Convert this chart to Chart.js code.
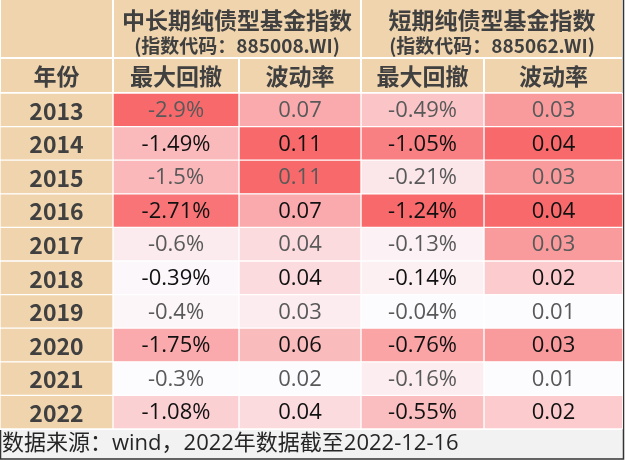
<!DOCTYPE html>
<html>
<head>
<meta charset="utf-8">
<script src="https://cdn.jsdelivr.net/npm/chart.js@4/dist/chart.umd.min.js"></script>
<style>
  body { margin: 0; background: #fff; }
  #wrap { width: 627px; height: 460px; position: relative; }
</style>
</head>
<body>
<div id="wrap"><canvas id="c"></canvas></div>
<script>
// 数据
const years = ['2013', '2014', '2015', '2016', '2017', '2018', '2019', '2020', '2021', '2022'];
const ddMid = [-2.9, -1.49, -1.5, -2.71, -0.6, -0.39, -0.4, -1.75, -0.3, -1.08];   // 中长期 最大回撤 %
const volMid = [0.07, 0.11, 0.11, 0.07, 0.04, 0.04, 0.03, 0.06, 0.02, 0.04];       // 中长期 波动率
const ddShort = [-0.49, -1.05, -0.21, -1.24, -0.13, -0.14, -0.04, -0.76, -0.16, -0.55]; // 短期 最大回撤 %
const volShort = [0.03, 0.04, 0.03, 0.04, 0.03, 0.02, 0.01, 0.03, 0.01, 0.02];     // 短期 波动率

const groupTitles = ['中长期纯债型基金指数', '短期纯债型基金指数'];
const groupCodes = ['(指数代码：885008.WI)', '(指数代码：885062.WI)'];
const yearHeader = '年份';
const colHeaders = ['最大回撤', '波动率', '最大回撤', '波动率'];
const sourceNote = '数据来源：wind，2022年数据截至2022-12-16';

// 版式
const colW = [113, 126, 122, 123, 139];
const edges = [0];
colW.forEach(w => edges.push(edges[edges.length - 1] + w));
const TAN = '#EFD4AE';
const TXT = '#404040';
const CJK = '"Noto Sans CJK SC", "Noto Sans", sans-serif';
const NUM = '"Open Sans", "Noto Sans", sans-serif';
const MIX = '"Open Sans", "Noto Sans CJK SC", sans-serif';

// Excel 风格色阶：最小 -> 白，最大 -> 红
function scaleColors(arr) {
  const a = arr.map(v => Math.abs(v));
  const mn = Math.min(...a), mx = Math.max(...a);
  return a.map(v => {
    const t = (v - mn) / (mx - mn);
    const r = Math.round(252 + (248 - 252) * t);
    const g = Math.round(252 + (105 - 252) * t);
    const b = Math.round(255 + (107 - 255) * t);
    return `rgb(${r},${g},${b})`;
  });
}

const columns = [
  { vals: ddMid, fmt: v => v + '%' },
  { vals: volMid, fmt: v => String(v) },
  { vals: ddShort, fmt: v => v + '%' },
  { vals: volShort, fmt: v => String(v) }
];

const datasets = [{
  label: yearHeader,
  data: years.map(() => [edges[0], edges[1]]),
  backgroundColor: TAN,
  texts: years
}];
columns.forEach((col, k) => {
  datasets.push({
    label: colHeaders[k],
    data: col.vals.map(() => [edges[k + 1], edges[k + 2]]),
    backgroundColor: scaleColors(col.vals),
    texts: col.vals.map(col.fmt)
  });
});
datasets.forEach(d => {
  d.borderColor = '#fff';
  d.borderWidth = 1;
  d.borderSkipped = false;
  d.grouped = false;
  d.barPercentage = 1;
  d.categoryPercentage = 1;
});

// 表头、页脚
const tablePlugin = {
  id: 'tableFrame',
  beforeDatasetsDraw(chart) {
    const ctx = chart.ctx;
    const xs = chart.scales.x;
    const px = v => xs.getPixelForValue(v);
    ctx.save();
    ctx.fillStyle = TAN;
    // 第一行表头
    [[0, 1], [1, 3], [3, 5]].forEach(([a, b]) => {
      ctx.fillRect(px(edges[a]) + 1, 0, px(edges[b]) - px(edges[a]) - 2, 57);
    });
    // 第二行表头
    for (let k = 0; k < 5; k++) {
      ctx.fillRect(px(edges[k]) + 1, 59, px(edges[k + 1]) - px(edges[k]) - 2, 33);
    }
    ctx.fillStyle = TXT;
    ctx.textAlign = 'center';
    ctx.textBaseline = 'middle';
    groupTitles.forEach((t, g) => {
      const cx = (px(edges[1 + g * 2]) + px(edges[3 + g * 2])) / 2;
      ctx.font = 'bold 23px ' + CJK;
      ctx.fillText(t, cx, 20);
      ctx.font = 'bold 19px ' + CJK;
      ctx.fillText(groupCodes[g], cx, 46);
    });
    ctx.font = 'bold 23px ' + CJK;
    ctx.fillText(yearHeader, (px(edges[0]) + px(edges[1])) / 2, 76);
    colHeaders.forEach((t, k) => {
      ctx.fillText(t, (px(edges[k + 1]) + px(edges[k + 2])) / 2, 76);
    });
    // 页脚
    const right = px(edges[5]);
    ctx.fillStyle = '#F2F2F2';
    ctx.fillRect(0, 430, right, 29);
    ctx.fillStyle = '#262626';
    ctx.textAlign = 'left';
    ctx.font = '22px ' + MIX;
    ctx.fillText(sourceNote, 2, 444);
    ctx.strokeStyle = '#333';
    ctx.lineWidth = 1.5;
    ctx.beginPath();
    ctx.moveTo(right + 0.5, 0);
    ctx.lineTo(right + 0.5, 459);
    ctx.lineTo(0.5, 459);
    ctx.lineTo(0.5, 430);
    ctx.stroke();
    ctx.restore();
  },
  afterDatasetsDraw(chart) {
    const ctx = chart.ctx;
    ctx.save();
    ctx.textAlign = 'center';
    ctx.textBaseline = 'middle';
    chart.data.datasets.forEach((ds, i) => {
      chart.getDatasetMeta(i).data.forEach((el, j) => {
        const p = el.getProps(['x', 'y', 'base'], true);
        const cx = (p.x + p.base) / 2;
        if (i === 0) {
          ctx.font = 'bold 23px ' + CJK;
          ctx.fillStyle = TXT;
        } else {
          ctx.font = '22px ' + NUM;
          ctx.fillStyle = j % 2 === 0 ? '#595959' : '#111111';
        }
        ctx.fillText(ds.texts[j], cx, p.y + 1);
      });
    });
    ctx.restore();
  }
};

new Chart(document.getElementById('c'), {
  type: 'bar',
  data: { labels: years, datasets: datasets },
  options: {
    indexAxis: 'y',
    responsive: true,
    maintainAspectRatio: false,
    animation: false,
    layout: { padding: { top: 93, bottom: 31, left: 0, right: 4 } },
    scales: {
      x: { type: 'linear', min: edges[0], max: edges[5], display: false },
      y: { type: 'category', display: false }
    },
    plugins: {
      legend: { display: false },
      tooltip: { enabled: false }
    }
  },
  plugins: [tablePlugin]
});
</script>
</body>
</html>
